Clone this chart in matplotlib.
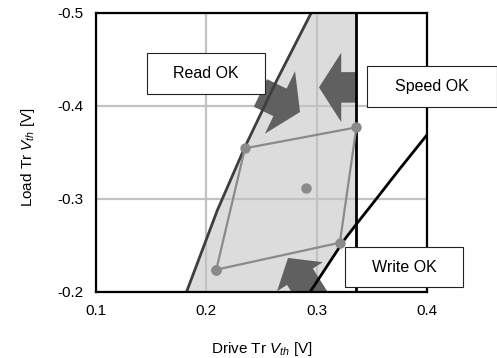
import numpy as np
import matplotlib
matplotlib.use('Agg')
import matplotlib.pyplot as plt
from matplotlib.patches import Rectangle, FancyArrowPatch

plt.rcParams['font.family'] = ['Liberation Sans', 'DejaVu Sans']
plt.rcParams['mathtext.fontset'] = 'custom'
plt.rcParams['mathtext.rm'] = 'Liberation Sans'
plt.rcParams['mathtext.it'] = 'Liberation Sans:italic'
plt.rcParams['axes.unicode_minus'] = False

# read margin boundary (drive Vth vs load Vth)
read_x = [0.182, 0.210, 0.235, 0.264, 0.295]
read_y = [-0.200, -0.288, -0.356, -0.428, -0.500]

# write margin boundary
write_x = [0.294, 0.325, 0.336, 0.350, 0.375, 0.400]
write_y = [-0.200, -0.256, -0.273, -0.294, -0.332, -0.369]

# speed limit
speed_x = 0.336

# corner / nominal points
corner_x = [0.209, 0.235, 0.336, 0.321, 0.209]
corner_y = [-0.224, -0.3545, -0.377, -0.253, -0.224]
center_x = [0.290]
center_y = [-0.3115]

xticks = [0.1, 0.2, 0.3, 0.4]
yticks = [-0.5, -0.4, -0.3, -0.2]

fig = plt.figure(figsize=(4.97, 3.58), dpi=100)
ax = fig.add_axes([0.1932, 0.1844, 0.666, 0.7793])

# shaded OK window
wx = np.array(write_x)
wy = np.array(write_y)
keep = wx <= speed_x
poly_x = list(read_x) + [speed_x] + list(wx[keep][::-1])
poly_y = list(read_y) + [-0.5] + list(wy[keep][::-1])
ax.fill(poly_x, poly_y, color='#dcdcdc', lw=0, zorder=0.3)

ax.grid(True, color='#c2c2c2', lw=1.6)
ax.set_axisbelow(True)

ax.plot(read_x, read_y, color='#3e3e3e', lw=2.0, zorder=3)
ax.plot(write_x, write_y, color='black', lw=2.0, zorder=3)
ax.axvline(speed_x, color='black', lw=2.0, zorder=3)

ax.plot(corner_x, corner_y, color='#8a8a8a', lw=1.6, marker='o', ms=6.5, zorder=4)
ax.plot(center_x, center_y, color='#8a8a8a', ls='none', marker='o', ms=6.5, zorder=4)

# arrows
arrows = [((0.2490, -0.4140), (0.2849, -0.3935)),
          ((0.3366, -0.4200), (0.3021, -0.4200)),
          ((0.3000, -0.1880), (0.2740, -0.2366))]
for (tail, tip), hw in zip(arrows, [5.0, 5.0, 3.9]):
    a = FancyArrowPatch(tail, tip, mutation_scale=10, shrinkA=0, shrinkB=0,
                        arrowstyle='simple,head_length=1.6,head_width=%.1f,tail_width=2.2' % hw,
                        color='#606060', lw=0, zorder=2.5)
    ax.add_patch(a)

# labelled boxes
boxes = [('Read OK', 0.1459, -0.4567, 0.1072, 0.0441),
         ('Speed OK', 0.3453, -0.4430, 0.1178, 0.0438),
         ('Write OK', 0.3257, -0.2481, 0.1067, 0.0430)]
for label, x0, y0, w, h in boxes:
    ax.add_patch(Rectangle((x0, y0), w, h, facecolor='white', edgecolor='#222222',
                           lw=0.8, clip_on=False, zorder=6))
    ax.text(x0 + w / 2, y0 + h / 2, label, ha='center', va='center', fontsize=11.5,
            zorder=7, clip_on=False)

ax.set_xlim(0.1, 0.4)
ax.set_ylim(-0.2, -0.5)
ax.set_xticks(xticks)
ax.set_yticks(yticks)
ax.set_xticklabels(['%.1f' % v for v in xticks])
ax.set_yticklabels(['%.1f' % v for v in yticks])
ax.tick_params(length=0, labelsize=11)
ax.tick_params(axis='x', pad=9)
ax.tick_params(axis='y', pad=9)
for s in ax.spines.values():
    s.set_linewidth(1.6)
    s.set_zorder(5)

ax.set_xlabel(r'Drive Tr $V_{th}$ [V]', fontsize=11)
ax.set_ylabel(r'Load Tr $V_{th}$ [V]', fontsize=11)
ax.xaxis.set_label_coords(0.5, -0.172)
ax.yaxis.set_label_coords(-0.178, 0.484)

fig.savefig('out.png', dpi=100)
